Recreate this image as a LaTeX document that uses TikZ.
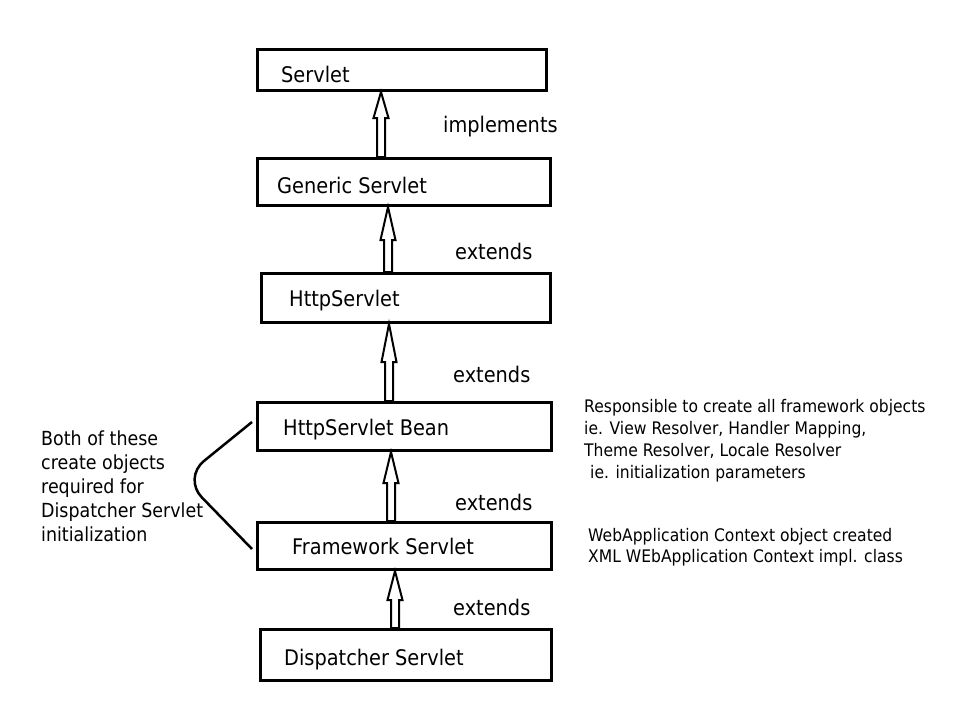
\documentclass[tikz,border=0pt]{standalone}
\usepackage{fontspec}
\setmainfont{DejaVu Sans}[FakeStretch=0.9]
\usetikzlibrary{calc}
\tikzset{
  box/.style={draw, line width=3pt, inner sep=0pt},
  lbl/.style={anchor=base west, inner sep=0pt, font=\fontsize{21.5}{26}\selectfont},
  note/.style={anchor=base west, inner sep=0pt, font=\fontsize{17.3}{22}\selectfont},
  side/.style={anchor=base west, inner sep=0pt, font=\fontsize{19.4}{24}\selectfont},
  blockarr/.style={draw, line width=2pt, fill=white, line join=miter},
  brace/.style={draw, line width=2.5pt, rounded corners=27pt},
}
% #1 x-centre (pt), #2 lower node, #3 upper node, #4 head length (pt)
\newcommand\blockarrow[4]{%
  \path[blockarr] let \p1=(#2.north), \p2=(#3.south) in
    ({#1pt},\y2) -- ({#1pt+7.5pt},{\y2-#4pt}) -- ({#1pt+4pt},{\y2-#4pt})
    -- ({#1pt+4pt},\y1) -- ({#1pt-4pt},\y1) -- ({#1pt-4pt},{\y2-#4pt})
    -- ({#1pt-7.5pt},{\y2-#4pt}) -- cycle;}
\begin{document}
\begin{tikzpicture}[x=1pt,y=-1pt]
\useasboundingbox[fill=white] (0,0) rectangle (971,725);

% boxes
\node[box, minimum width=289pt, minimum height=41pt] (servlet)    at (402,70)    {};
\node[box, minimum width=293pt, minimum height=47pt] (generic)    at (404,182)   {};
\node[box, minimum width=289pt, minimum height=49pt] (http)       at (406,298)   {};
\node[box, minimum width=294pt, minimum height=48pt] (bean)       at (404.5,426.5) {};
\node[box, minimum width=294pt, minimum height=47pt] (framework)  at (404.5,546) {};
\node[box, minimum width=291pt, minimum height=51pt] (dispatcher) at (406,655)   {};

% box labels
\node[lbl] (tservlet)    at (281,82)  {Servlet};
\node[lbl] (tgeneric)    at (277,193) {Generic Servlet};
\node[lbl] (thttp)       at (289,306) {HttpServlet};
\node[lbl] (tbean)       at (283,435) {HttpServlet Bean};
\node[lbl] (tframework)  at (292,554) {Framework Servlet};
\node[lbl] (tdispatcher) at (284,665) {Dispatcher Servlet};

% arrows
\blockarrow{381}{generic}{servlet}{26}
\blockarrow{388}{http}{generic}{33}
\blockarrow{389}{bean}{http}{38}
\blockarrow{391}{framework}{bean}{31}
\blockarrow{395}{dispatcher}{framework}{29}

% arrow labels
\node[lbl] (limpl) at (443,132) {implements};
\node[lbl] (lext1) at (455,259) {extends};
\node[lbl] (lext2) at (453,382) {extends};
\node[lbl] (lext3) at (455,510) {extends};
\node[lbl] (lext4) at (453,615) {extends};

% brace
\coordinate (bend) at (183,478);
\draw[brace] ([xshift=-4pt,yshift=4.5pt]bean.west) -- (bend) -- ([xshift=-4pt,yshift=-3pt]framework.west);

% left note
\node[side] (s1) at (41,445) {Both of these};
\node[side] (s2) at (41,469) {create objects};
\node[side] (s3) at (41,493) {required for};
\node[side] (s4) at (41,517) {Dispatcher Servlet};
\node[side] (s5) at (41,541) {initialization};

% right notes
\node[note] (r1) at (584,412) {Responsible to create all framework objects};
\node[note] (r2) at (584,434) {ie. View Resolver, Handler Mapping,};
\node[note] (r3) at (584,456) {Theme Resolver, Locale Resolver};
\node[note] (r4) at (590,478) {ie. initialization parameters};
\node[note] (w1) at (588,541) {WebApplication Context object created};
\node[note] (w2) at (588,562) {XML WEbApplication Context impl. class};
\end{tikzpicture}
\end{document}
